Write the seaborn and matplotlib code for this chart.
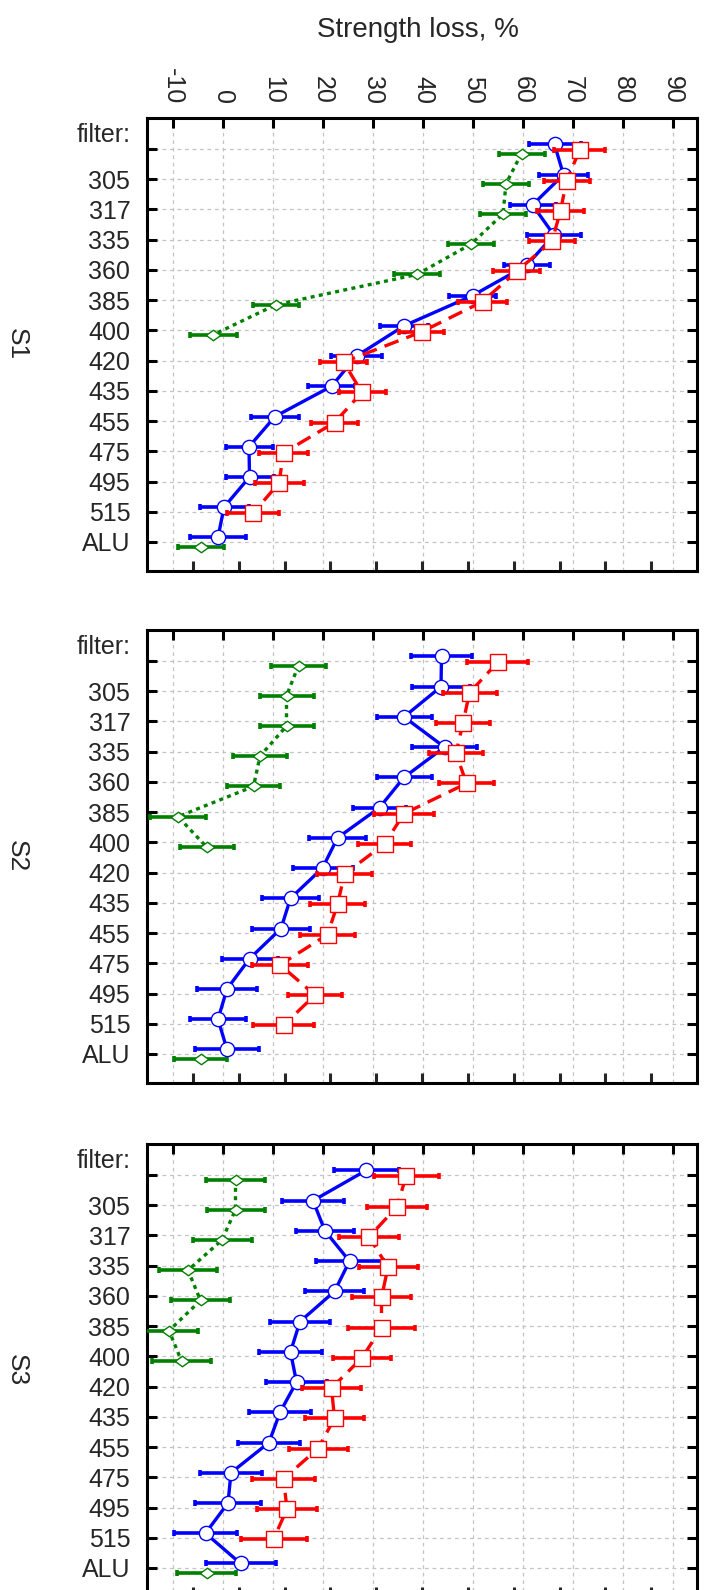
import numpy as np
import pandas as pd
import matplotlib
matplotlib.use("Agg")
import matplotlib.pyplot as plt
import seaborn as sns
from matplotlib.ticker import FixedLocator

# rows of every panel (first row is the header row)
rows = ["filter:", "305", "317", "335", "360", "385", "400", "420",
        "435", "455", "475", "495", "515", "ALU"]
panels = ["S1", "S2", "S3"]
x_ticks = [-10, 0, 10, 20, 30, 40, 50, 60, 70, 80, 90]
nan = np.nan

# S1
s1_blue = [66.3, 68.1, 61.9, 66.2, 60.7, 49.9, 36.2, 26.7, 21.7, 10.4, 5.2, 5.3, 0.2, -1.0]
s1_blue_err = [5.2, 4.9, 4.6, 5.4, 4.6, 4.7, 4.85, 5.1, 4.7, 4.85, 4.7, 4.8, 4.9, 5.6]
s1_red = [71.3, 68.7, 67.5, 65.8, 58.7, 51.9, 39.7, 24.1, 27.8, 22.3, 12.1, 11.2, 6.0, nan]
s1_red_err = [5.05, 4.6, 4.65, 4.55, 4.7, 4.95, 4.5, 4.65, 4.7, 4.65, 4.85, 4.9, 5.2, nan]
s1_green = [59.7, 56.6, 56.0, 49.6, 38.8, 10.6, -2.0, nan, nan, nan, nan, nan, nan, -4.5]
s1_green_err = [4.6, 4.6, 4.6, 4.55, 4.6, 4.65, 4.7, nan, nan, nan, nan, nan, nan, 4.6]

# S2
s2_blue = [43.7, 43.6, 36.2, 44.3, 36.2, 31.3, 22.9, 19.9, 13.5, 11.6, 5.3, 0.8, -1.0, 0.8]
s2_blue_err = [6.15, 5.8, 5.5, 6.55, 5.5, 5.3, 5.75, 6.0, 5.7, 5.75, 5.6, 6.0, 5.65, 6.4]
s2_red = [54.9, 49.3, 48.0, 46.6, 48.7, 36.2, 32.3, 24.3, 22.9, 20.9, 11.4, 18.4, 12.1, nan]
s2_red_err = [6.1, 5.4, 5.45, 5.4, 5.45, 6.05, 5.35, 5.5, 5.5, 5.45, 5.65, 5.4, 6.05, nan]
s2_green = [15.1, 12.7, 12.7, 7.4, 6.1, -9.0, -3.3, nan, nan, nan, nan, nan, nan, -4.5]
s2_green_err = [5.45, 5.4, 5.4, 5.45, 5.35, 5.6, 5.4, nan, nan, nan, nan, nan, nan, 5.35]

# S3
s3_blue = [28.6, 18.0, 20.4, 25.3, 22.3, 15.4, 13.5, 14.7, 11.4, 9.2, 1.6, 1.0, -3.5, 3.5]
s3_blue_err = [6.5, 6.2, 5.8, 6.65, 5.85, 5.95, 6.25, 6.1, 6.25, 6.15, 6.25, 6.55, 6.25, 7.0]
s3_red = [36.6, 34.8, 29.2, 33.0, 31.7, 31.7, 27.8, 21.7, 22.3, 19.0, 12.1, 12.8, 10.1, nan]
s3_red_err = [6.5, 5.95, 5.95, 5.9, 5.9, 6.65, 5.85, 5.95, 5.95, 5.9, 6.25, 5.95, 6.6, nan]
s3_green = [2.5, 2.5, -0.2, -7.0, -4.5, -10.8, -8.3, nan, nan, nan, nan, nan, nan, -3.3]
s3_green_err = [5.85, 5.8, 5.9, 5.85, 5.95, 5.8, 5.85, nan, nan, nan, nan, nan, nan, 5.85]

panel_data = [
    {"green": (s1_green, s1_green_err), "blue": (s1_blue, s1_blue_err), "red": (s1_red, s1_red_err)},
    {"green": (s2_green, s2_green_err), "blue": (s2_blue, s2_blue_err), "red": (s2_red, s2_red_err)},
    {"green": (s3_green, s3_green_err), "blue": (s3_blue, s3_blue_err), "red": (s3_red, s3_red_err)},
]

# look of each series
diamond = [(-1, 0), (0, 0.72), (1, 0), (0, -0.72), (-1, 0)]
styles = {
    "green": dict(color="#008000", off=0.15, ls=(0, (1.2, 1.3)), marker=diamond, s=110, z=3),
    "blue": dict(color="#0000ff", off=-0.15, ls="-", marker="o", s=105, z=4),
    "red": dict(color="#ff0000", off=0.05, ls=(0, (4.5, 2.5)), marker="s", s=130, z=5),
}

sns.set_style("ticks")
plt.rcParams["font.family"] = ["Liberation Sans", "DejaVu Sans"]

fig = plt.figure(figsize=(7.04, 15.9), dpi=100)

W, H = 704, 1590
ax_left, ax_right = 147, 697
ax_tops = [118, 630, 1144]
ax_h = 453
xmin, xmax = -15.2, 94.8

for i, (pname, pdata) in enumerate(zip(panels, panel_data)):
    top = ax_tops[i]
    ax = fig.add_axes([ax_left / W, 1 - (top + ax_h) / H, (ax_right - ax_left) / W, ax_h / H])
    ypos = np.arange(len(rows))

    for key in ["green", "blue", "red"]:
        vals, errs = pdata[key]
        st = styles[key]
        pos = ypos + st["off"]
        ax.errorbar(vals, pos, xerr=errs, fmt="none", ecolor=st["color"],
                    elinewidth=2.6, capsize=2.4, capthick=2.6, zorder=st["z"])
        df = pd.DataFrame({"x": vals, "y": pos})
        df["seg"] = df["x"].isna().cumsum()
        df = df.dropna()
        sns.lineplot(data=df, x="x", y="y", units="seg", estimator=None, sort=False,
                     orient="y", color=st["color"], linewidth=2.4, linestyle=st["ls"],
                     ax=ax, zorder=st["z"] + 0.1, legend=False)
        sns.scatterplot(data=df, x="x", y="y", marker=st["marker"], s=st["s"],
                        facecolor="white", edgecolor=st["color"], linewidth=1.0,
                        ax=ax, zorder=st["z"] + 0.2, legend=False)

    ax.set_xlim(xmin, xmax)
    ax.set_ylim(len(rows) - 1 + 0.96, -1.025)
    ax.set_xlabel("")
    ax.set_ylabel("")

    ax.set_xticks(x_ticks)
    ax.set_xticklabels([str(t) for t in x_ticks], rotation=-90)
    ax.xaxis.set_minor_locator(FixedLocator(np.linspace(xmin, xmax, 13)[1:-1]))
    ax.set_yticks(ypos)
    ax.set_yticklabels(["" if r.endswith(":") else r for r in rows])
    # header label sits half a row above the first tick
    ax.annotate(rows[0], xy=(0, 0), xycoords=("axes fraction", "data"),
                xytext=(-12, 10), textcoords="offset points",
                ha="right", va="center", fontsize=18)

    ax.tick_params(axis="both", which="major", direction="in", length=7, width=2.2,
                   labelsize=18, color="black")
    ax.tick_params(axis="x", which="major", top=True, bottom=False,
                   labeltop=(i == 0), labelbottom=False, pad=10)
    ax.tick_params(axis="x", which="minor", top=False, bottom=True, direction="in",
                   length=7, width=2.2)
    ax.tick_params(axis="y", which="major", left=True, right=True, pad=12)

    ax.grid(True, which="major", color="#c4c4c4", linestyle=(0, (3, 3)), linewidth=0.9)
    ax.set_axisbelow(True)
    for sp in ax.spines.values():
        sp.set_visible(True)
        sp.set_linewidth(2.2)
        sp.set_color("black")

    fig.text(17 / W, 1 - (top + ax_h / 2) / H, pname, rotation=-90,
             ha="center", va="center", fontsize=19)

fig.text(418 / W, 1 - 30 / H, "Strength loss, %", ha="center", va="center", fontsize=20)

fig.savefig("out.png", dpi=100)
